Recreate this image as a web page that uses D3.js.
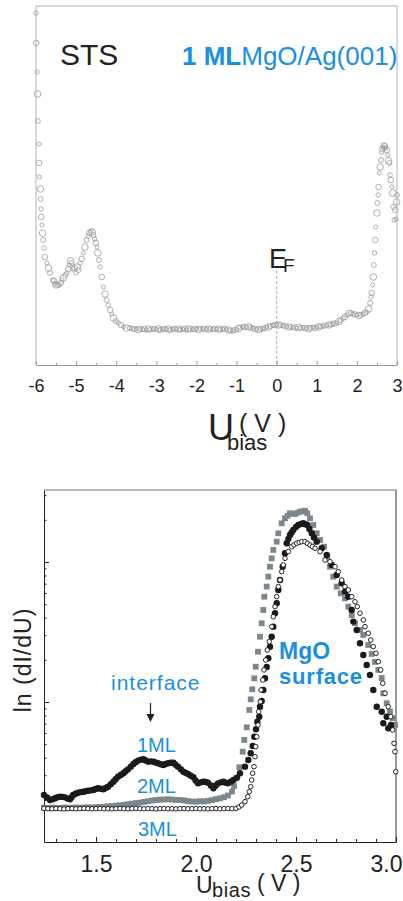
<!DOCTYPE html>
<html>
<head>
<meta charset="utf-8">
<script src="https://cdn.jsdelivr.net/npm/d3@7"></script>
<style>
  body { margin: 0; background: #fff; }
  svg { display: block; font-family: "Liberation Sans", Arial, sans-serif; }
</style>
</head>
<body>
<div id="chart"></div>
<script>
// ---- data ----
// top panel: STS of 1 ML MgO/Ag(001), [U bias (V), dI/dU (arb. units)]
var stsSpectrum = [
  [-6.00,35.2],[-5.995,32.2],[-5.97,29.3],[-5.96,27.1],[-5.955,24.4],[-5.925,22.1],[-5.92,20.2],[-5.915,18.8],
  [-5.89,17.6],[-5.885,16.6],[-5.875,15.6],[-5.87,14.8],[-5.85,14.0],[-5.835,13.2],[-5.82,12.5],[-5.80,11.7],
  [-5.78,10.8],[-5.73,10.2],[-5.69,9.7],[-5.65,9.2],[-5.58,8.5],[-5.55,8.4],[-5.53,8.1],[-5.50,8.0],[-5.46,8.0],
  [-5.42,8.0],[-5.38,8.2],[-5.35,8.5],[-5.32,8.7],[-5.27,9.0],[-5.23,9.2],[-5.20,9.6],[-5.17,10.0],[-5.14,10.4],
  [-5.11,10.2],[-5.08,9.6],[-5.04,9.7],[-5.01,9.2],[-4.97,9.8],[-4.94,9.5],[-4.90,10.2],[-4.86,10.6],[-4.82,11.2],
  [-4.78,11.8],[-4.74,12.5],[-4.70,12.9],[-4.67,13.2],[-4.63,13.4],[-4.60,13.3],[-4.57,13.0],[-4.54,12.6],
  [-4.51,12.2],[-4.48,11.8],[-4.46,11.2],[-4.43,10.5],[-4.40,9.8],[-4.36,8.8],[-4.32,7.8],[-4.28,7.1],[-4.24,6.5],
  [-4.20,6.0],[-4.15,5.5],[-4.11,5.1],[-4.07,4.7],[-4.01,4.4],[-3.95,4.2],[-3.88,4.0],[-3.82,3.8],[-3.74,3.7],
  [-3.66,3.7],[-3.60,3.65],[-3.55,3.6],[-3.50,3.6],[-3.45,3.55],[-3.40,3.6],[-3.35,3.55],[-3.30,3.6],[-3.25,3.5],
  [-3.20,3.6],[-3.15,3.55],[-3.10,3.6],[-3.05,3.6],[-3.00,3.55],[-2.95,3.6],[-2.90,3.5],[-2.85,3.6],[-2.80,3.6],
  [-2.75,3.55],[-2.70,3.6],[-2.65,3.5],[-2.60,3.6],[-2.55,3.6],[-2.50,3.55],[-2.45,3.6],[-2.40,3.55],[-2.35,3.6],
  [-2.30,3.6],[-2.25,3.5],[-2.20,3.6],[-2.15,3.6],[-2.10,3.55],[-2.05,3.6],[-2.00,3.6],[-1.95,3.55],[-1.90,3.6],
  [-1.85,3.65],[-1.80,3.6],[-1.75,3.55],[-1.70,3.6],[-1.65,3.6],[-1.60,3.55],[-1.55,3.6],[-1.50,3.6],[-1.45,3.6],
  [-1.40,3.55],[-1.35,3.6],[-1.30,3.6],[-1.25,3.55],[-1.20,3.5],[-1.15,3.45],[-1.10,3.4],[-1.05,3.5],[-1.00,3.55],
  [-0.95,3.65],[-0.90,3.75],[-0.85,3.8],[-0.80,3.8],[-0.75,3.75],[-0.70,3.8],[-0.65,3.75],[-0.60,3.7],[-0.55,3.6],
  [-0.50,3.55],[-0.45,3.55],[-0.40,3.6],[-0.35,3.6],[-0.30,3.7],[-0.25,3.8],[-0.20,3.8],[-0.15,3.9],[-0.10,3.95],
  [-0.05,4.0],[0.00,4.05],[0.05,4.0],[0.10,4.0],[0.15,3.95],[0.20,3.9],[0.25,3.85],[0.30,3.8],[0.35,3.8],
  [0.40,3.75],[0.45,3.75],[0.50,3.7],[0.55,3.75],[0.60,3.7],[0.65,3.75],[0.70,3.7],[0.75,3.65],[0.80,3.65],
  [0.85,3.7],[0.90,3.75],[0.95,3.7],[1.00,3.75],[1.05,3.8],[1.10,3.85],[1.15,3.9],[1.20,3.95],[1.25,3.95],
  [1.30,4.0],[1.35,4.05],[1.40,4.1],[1.45,4.15],[1.50,4.2],[1.55,4.35],[1.60,4.5],[1.65,4.65],[1.70,4.8],
  [1.75,5.0],[1.80,5.15],[1.85,5.2],[1.90,5.1],[1.95,5.05],[2.00,5.0],[2.05,4.95],[2.10,5.0],[2.15,5.1],
  [2.20,5.2],[2.25,5.3],[2.29,5.6],[2.33,6.2],[2.35,6.8],[2.37,7.2],[2.39,8.0],[2.41,8.8],[2.42,10.0],
  [2.44,11.2],[2.455,12.5],[2.47,13.8],[2.50,15.2],[2.51,16.2],[2.53,17.0],[2.54,17.8],[2.56,19.2],[2.58,19.8],
  [2.60,20.5],[2.62,21.3],[2.64,21.6],[2.66,21.8],[2.68,21.9],[2.70,21.9],[2.72,21.7],[2.745,21.5],[2.77,21.0],
  [2.79,20.4],[2.81,20.2],[2.83,19.0],[2.845,18.5],[2.87,17.8],[2.895,17.2],[2.91,15.8],[2.93,14.5],[2.96,15.5],
  [2.98,14.6],[2.99,16.3],[3.00,17.0]
];
var topTicks = [-6, -5, -4, -3, -2, -1, 0, 1, 2, 3];
var topMinor = [-5.5, -4.5, -3.5, -2.5, -1.5, -0.5, 0.5, 1.5, 2.5];

// bottom panel: ln(dI/dU) (log units) for 1, 2 and 3 ML, [U bias (V), value]
var ml1 = [
  [1.24,0.336],[1.255,0.318],[1.27,0.30],[1.283,0.305],[1.295,0.312],[1.308,0.32],[1.32,0.324],[1.333,0.322],
  [1.345,0.319],[1.358,0.31],[1.37,0.305],[1.378,0.32],[1.386,0.336],[1.398,0.345],
  [1.41,0.352],[1.424,0.356],[1.437,0.359],[1.448,0.362],[1.46,0.366],[1.474,0.369],[1.487,0.371],[1.498,0.378],
  [1.51,0.384],[1.524,0.38],[1.537,0.376],[1.548,0.386],[1.56,0.395],[1.574,0.412],[1.587,0.431],[1.598,0.449],
  [1.61,0.466],[1.624,0.478],[1.637,0.491],[1.648,0.505],[1.66,0.519],[1.674,0.538],[1.687,0.557],[1.698,0.57],
  [1.71,0.581],[1.724,0.588],[1.737,0.591],[1.748,0.582],[1.76,0.574],[1.774,0.576],[1.787,0.574],[1.798,0.568],
  [1.81,0.562],[1.824,0.555],[1.837,0.55],[1.848,0.557],[1.86,0.562],[1.874,0.566],[1.887,0.566],[1.898,0.552],
  [1.91,0.538],[1.924,0.52],[1.937,0.502],[1.948,0.494],[1.96,0.486],[1.974,0.474],[1.987,0.462],[1.998,0.44],
  [2.01,0.419],[2.024,0.426],[2.037,0.431],[2.048,0.428],[2.06,0.424],[2.074,0.404],[2.087,0.384],[2.098,0.402],
  [2.11,0.419],[2.124,0.426],[2.137,0.431],[2.148,0.424],[2.16,0.419],[2.174,0.431],[2.187,0.443],
  [2.205,0.46],[2.22,0.491],[2.245,0.538],[2.2615,0.586],[2.2735,0.634],[2.2835,0.686],[2.2915,0.752],[2.30,0.805],
  [2.3065,0.859],[2.3165,0.895],[2.32,0.966],[2.3285,1.007],[2.3365,1.086],[2.345,1.169],[2.3535,1.25],[2.3615,1.312],
  [2.37,1.395],[2.3785,1.466],[2.3865,1.538],[2.395,1.634],[2.4035,1.705],[2.4115,1.80],[2.42,1.871],[2.4335,1.966],
  [2.445,2.062],[2.4535,2.134],[2.462,2.165],[2.47,2.193],[2.478,2.21],[2.4865,2.229],[2.50,2.25],[2.5115,2.264],
  [2.525,2.272],[2.5365,2.276],[2.5465,2.27],[2.5565,2.264],[2.567,2.235],[2.5785,2.205],[2.59,2.175],[2.6035,2.145],
  [2.6285,2.098],[2.6535,2.05],[2.6785,1.979],[2.7035,1.907],[2.7285,1.848],[2.745,1.788],[2.7615,1.752],
  [2.7785,1.657],[2.7865,1.574],[2.8035,1.514],[2.82,1.419],[2.8365,1.336],[2.8535,1.264],[2.87,1.193],
  [2.8865,1.086],[2.9035,0.966],[2.9285,0.93],[2.9365,0.848],[2.9535,0.895],[2.9615,0.812],[2.975,0.836]
];
var ml2 = [
  [1.24,0.245],[1.26,0.243],[1.28,0.246],[1.30,0.244],[1.32,0.243],[1.34,0.246],[1.36,0.245],[1.38,0.244],
  [1.40,0.247],[1.42,0.245],[1.44,0.246],[1.46,0.248],[1.48,0.247],[1.50,0.249],[1.52,0.250],[1.54,0.252],
  [1.56,0.255],[1.58,0.257],[1.60,0.260],[1.62,0.262],[1.64,0.266],[1.66,0.270],[1.68,0.274],[1.70,0.278],
  [1.72,0.281],[1.74,0.286],[1.76,0.291],[1.78,0.296],[1.80,0.300],[1.82,0.302],[1.84,0.304],[1.86,0.305],
  [1.88,0.303],[1.90,0.301],[1.92,0.300],[1.94,0.297],[1.96,0.292],[1.98,0.289],[2.00,0.288],[2.02,0.291],
  [2.04,0.290],[2.06,0.294],[2.08,0.299],[2.10,0.306],[2.12,0.312],[2.14,0.320],[2.16,0.332],[2.18,0.36],
  [2.19,0.40],[2.20,0.455],[2.2165,0.534],[2.2335,0.645],[2.2415,0.729],[2.2535,0.819],[2.2665,0.943],
  [2.2735,1.019],[2.2815,1.091],[2.2915,1.169],[2.2985,1.252],[2.31,1.359],[2.32,1.466],[2.3285,1.562],
  [2.3365,1.657],[2.3415,1.752],[2.3535,1.824],[2.3615,1.895],[2.37,1.966],[2.3785,2.026],[2.3865,2.086],
  [2.4035,2.145],[2.4115,2.205],[2.4285,2.276],[2.445,2.312],[2.458,2.33],[2.47,2.348],[2.483,2.345],[2.495,2.343],
  [2.508,2.352],[2.52,2.359],[2.533,2.362],[2.545,2.366],[2.5565,2.348],[2.57,2.312],[2.5865,2.264],[2.6035,2.205],
  [2.62,2.157],[2.64,2.109],[2.6565,2.038],[2.67,1.966],[2.6865,1.895],[2.7035,1.824],[2.7235,1.776],[2.745,1.74],
  [2.7615,1.681],[2.7785,1.621],[2.795,1.562],[2.82,1.514],[2.8365,1.479],[2.8615,1.407],[2.8785,1.343],
  [2.895,1.286],[2.9115,1.229],[2.9285,1.171],[2.9365,1.062],[2.9535,0.991],[2.97,0.931],[2.9835,0.884],[2.995,0.836]
];
var ml3 = [
  [1.24,0.240],[1.26,0.238],[1.28,0.237],[1.30,0.239],[1.32,0.238],[1.34,0.236],[1.36,0.238],[1.38,0.239],
  [1.40,0.237],[1.42,0.238],[1.44,0.240],[1.46,0.238],[1.48,0.237],[1.50,0.238],[1.52,0.239],[1.54,0.237],
  [1.56,0.238],[1.58,0.236],[1.60,0.238],[1.62,0.239],[1.64,0.238],[1.66,0.237],[1.68,0.238],[1.70,0.240],
  [1.72,0.238],[1.74,0.237],[1.76,0.239],[1.78,0.238],[1.80,0.236],[1.82,0.238],[1.84,0.239],[1.86,0.237],
  [1.88,0.238],[1.90,0.236],[1.92,0.238],[1.94,0.239],[1.96,0.237],[1.98,0.238],[2.00,0.239],[2.02,0.237],
  [2.04,0.238],[2.06,0.236],[2.08,0.238],[2.10,0.239],[2.12,0.237],[2.14,0.238],[2.16,0.239],[2.18,0.238],
  [2.20,0.240],[2.215,0.250],[2.2285,0.264],[2.245,0.288],[2.2585,0.324],[2.2665,0.359],[2.2735,0.395],
  [2.2785,0.443],[2.2835,0.491],[2.29,0.538],[2.295,0.609],[2.2985,0.681],[2.3035,0.752],[2.31,0.836],
  [2.3135,0.931],[2.3215,1.002],[2.325,1.086],[2.3335,1.157],[2.34,1.229],[2.3485,1.30],[2.3565,1.371],
  [2.3665,1.431],[2.3785,1.538],[2.3865,1.609],[2.395,1.681],[2.4035,1.752],[2.4115,1.824],[2.42,1.871],
  [2.4285,1.931],[2.4365,1.979],[2.445,2.026],[2.4615,2.074],[2.4785,2.109],[2.49,2.122],[2.5035,2.134],
  [2.516,2.14],[2.5285,2.145],[2.545,2.145],[2.557,2.133],[2.57,2.121],[2.582,2.11],[2.595,2.098],[2.62,2.074],
  [2.645,2.014],[2.67,2.002],[2.695,1.966],[2.7115,1.931],[2.7285,1.871],[2.745,1.824],[2.7615,1.80],
  [2.7785,1.752],[2.795,1.716],[2.8065,1.681],[2.82,1.634],[2.8365,1.586],[2.845,1.538],[2.8615,1.491],
  [2.8735,1.443],[2.8865,1.395],[2.90,1.348],[2.9115,1.288],[2.9235,1.229],[2.9335,1.134],[2.945,1.062],
  [2.9615,0.966],[2.9735,0.895],[2.9835,0.80],[2.99,0.705],[2.995,0.645],[2.9985,0.502]
];
var bottomTicks = [1.5, 2.0, 2.5, 3.0];
var bottomMinor = [1.3, 1.4, 1.6, 1.7, 1.8, 1.9, 2.1, 2.2, 2.3, 2.4, 2.6, 2.7, 2.8, 2.9];
var yMajor = [1, 2];

var blue = "#1a8fe0";

var svg = d3.select("#chart")
  .append("svg")
    .attr("width", 403)
    .attr("height", 901);

// ================= top panel =================
var xTop = d3.scaleLinear().domain([-6, 3]).range([36, 397]);
var yTop = d3.scaleLinear().domain([0, 35.9]).range([365, 6]);

// frame (left, top, right)
svg.append("path")
  .attr("d", "M" + xTop(-6) + "," + yTop(0) + "V" + yTop(35.9) + "H" + xTop(3) + "V" + yTop(0))
  .attr("fill", "none")
  .attr("stroke", "#b3b3b3");

var gTop = svg.append("g").attr("transform", "translate(0," + yTop(0) + ")");
gTop.call(d3.axisBottom(xTop).tickValues(topTicks).tickSize(-4).tickSizeOuter(0)
    .tickPadding(14).tickFormat(function(d) { return String(d); }));
gTop.append("g").call(d3.axisBottom(xTop).tickValues(topMinor).tickSize(-2).tickSizeOuter(0).tickFormat(""))
  .select(".domain").remove();
gTop.selectAll("path, line").attr("stroke", "#999");
gTop.selectAll("text")
  .attr("font-size", 18)
  .attr("font-family", "Liberation Sans, Arial, sans-serif")
  .attr("fill", "#222");

// Fermi level
svg.append("line")
  .attr("x1", xTop(0)).attr("x2", xTop(0))
  .attr("y1", 271).attr("y2", yTop(0))
  .attr("stroke", "#999")
  .attr("stroke-width", 0.8)
  .attr("stroke-dasharray", "3,2");

var stsR = [2.2, 2.8, 2.0, 3.3, 2.5];
svg.append("g")
  .selectAll("circle")
  .data(stsSpectrum)
  .enter()
  .append("circle")
    .attr("cx", function(d) { return xTop(d[0]); })
    .attr("cy", function(d) { return yTop(d[1]); })
    .attr("r", function(d, i) { return stsR[i % 5]; })
    .attr("fill", "none")
    .attr("stroke", "#9c9c9c")
    .attr("stroke-width", 0.8);

// top texts
svg.append("text").attr("x", 60).attr("y", 65).attr("font-size", 30).attr("fill", "#222").text("STS");
var t1 = svg.append("text").attr("x", 182).attr("y", 65).attr("font-size", 26).attr("fill", blue);
t1.append("tspan").attr("font-weight", "bold").text("1 ML");
t1.append("tspan").text("MgO/Ag(001)");

svg.append("text").attr("x", 269).attr("y", 268).attr("font-size", 27).attr("fill", "#222").text("E");
svg.append("text").attr("x", 283).attr("y", 272).attr("font-size", 19).attr("fill", "#222").text("F");

svg.append("text").attr("x", 208).attr("y", 440).attr("font-size", 36).attr("fill", "#222").text("U");
svg.append("text").attr("x", 227).attr("y", 450).attr("font-size", 22).attr("fill", "#222").text("bias");
svg.append("text").attr("x", 239).attr("y", 432).attr("font-size", 25).attr("fill", "#222")
  .style("white-space", "pre").text("( V )");

// ================= bottom panel =================
var xBot = d3.scaleLinear().domain([1.24, 3.0]).range([44, 396]);
var yBot = d3.scaleLinear().domain([0, 2.514]).range([842, 490]);

svg.append("line")
  .attr("x1", xBot(1.24)).attr("x2", xBot(3.0))
  .attr("y1", yBot(2.514)).attr("y2", yBot(2.514))
  .attr("stroke", "#777");
svg.append("line")
  .attr("x1", xBot(3.0)).attr("x2", xBot(3.0))
  .attr("y1", yBot(2.514)).attr("y2", yBot(0))
  .attr("stroke", "#333");

var gBx = svg.append("g").attr("transform", "translate(0," + yBot(0) + ")");
gBx.call(d3.axisBottom(xBot).tickValues(bottomTicks).tickSize(-5).tickSizeOuter(0)
    .tickPadding(14).tickFormat(d3.format(".1f")));
gBx.append("g").call(d3.axisBottom(xBot).tickValues(bottomMinor).tickSize(-3).tickSizeOuter(0).tickFormat(""))
  .select(".domain").remove();
// last label pulled inside the picture, as in the original
gBx.selectAll(".tick text").filter(function(d) { return d === 3.0; }).attr("dx", -10);

// log-style minor ticks on the ln axis
var yMinor = [];
[0, 1, 2].forEach(function(n) {
  [2, 3, 4, 5, 6, 7, 8, 9].forEach(function(k) {
    var v = n + Math.log10(k);
    if (v < 2.514) yMinor.push(v);
  });
});
var gBy = svg.append("g").attr("transform", "translate(" + xBot(1.24) + ",0)");
gBy.call(d3.axisLeft(yBot).tickValues(yMajor).tickSize(-5).tickSizeOuter(0).tickFormat(""));
gBy.append("g").call(d3.axisLeft(yBot).tickValues(yMinor).tickSize(-2.5).tickSizeOuter(0).tickFormat(""))
  .select(".domain").remove();

[gBx, gBy].forEach(function(g) {
  g.selectAll("path, line").attr("stroke", "#222");
  g.selectAll("text")
    .attr("font-size", 23)
    .attr("font-family", "Liberation Sans, Arial, sans-serif")
    .attr("fill", "#222");
});

// 2 ML: grey squares
svg.append("g")
  .selectAll("rect")
  .data(ml2)
  .enter()
  .append("rect")
    .attr("x", function(d) { return xBot(d[0]) - 2.9; })
    .attr("y", function(d) { return yBot(d[1]) - 2.9; })
    .attr("width", 5.8)
    .attr("height", 5.8)
    .attr("fill", "#7b878d");

// 1 ML: black dots
svg.append("g")
  .selectAll("circle")
  .data(ml1)
  .enter()
  .append("circle")
    .attr("cx", function(d) { return xBot(d[0]); })
    .attr("cy", function(d) { return yBot(d[1]); })
    .attr("r", 3.2)
    .attr("fill", "#1a1a1a");

// 3 ML: open circles
svg.append("g")
  .selectAll("circle")
  .data(ml3)
  .enter()
  .append("circle")
    .attr("cx", function(d) { return xBot(d[0]); })
    .attr("cy", function(d) { return yBot(d[1]); })
    .attr("r", 2.3)
    .attr("fill", "#fff")
    .attr("stroke", "#111")
    .attr("stroke-width", 0.9);

// labels
function label(x, y, size, txt, bold, ls) {
  return svg.append("text")
    .attr("x", x).attr("y", y)
    .attr("font-size", size)
    .attr("font-weight", bold ? "bold" : "normal")
    .attr("letter-spacing", ls || 0)
    .attr("fill", blue)
    .text(txt);
}
label(111, 690, 21, "interface", false, 1);
label(137, 752, 20, "1ML");
label(137, 793, 20, "2ML");
label(138, 836, 20, "3ML");
label(279, 659, 23, "MgO", true);
label(279, 684, 22, "surface", true, 0.8);

// arrow
svg.append("line")
  .attr("x1", 150.5).attr("x2", 150.5)
  .attr("y1", 703).attr("y2", 716)
  .attr("stroke", "#222").attr("stroke-width", 1.2);
svg.append("path")
  .attr("d", "M146.5,714L154.5,714L150.5,722Z")
  .attr("fill", "#222");

// axis titles
svg.append("text")
  .attr("transform", "translate(31,660) rotate(-90)")
  .attr("text-anchor", "middle")
  .attr("font-size", 23)
  .attr("letter-spacing", 1)
  .attr("fill", "#222")
  .text("ln (dI/dU)");

svg.append("text").attr("x", 196).attr("y", 893).attr("font-size", 23).attr("fill", "#222").text("U");
svg.append("text").attr("x", 212).attr("y", 897).attr("font-size", 20).attr("letter-spacing", 0.6)
  .attr("fill", "#222").text("bias");
svg.append("text").attr("x", 257).attr("y", 891).attr("font-size", 23).attr("fill", "#222")
  .style("white-space", "pre").text("( V )");
</script>
</body>
</html>
